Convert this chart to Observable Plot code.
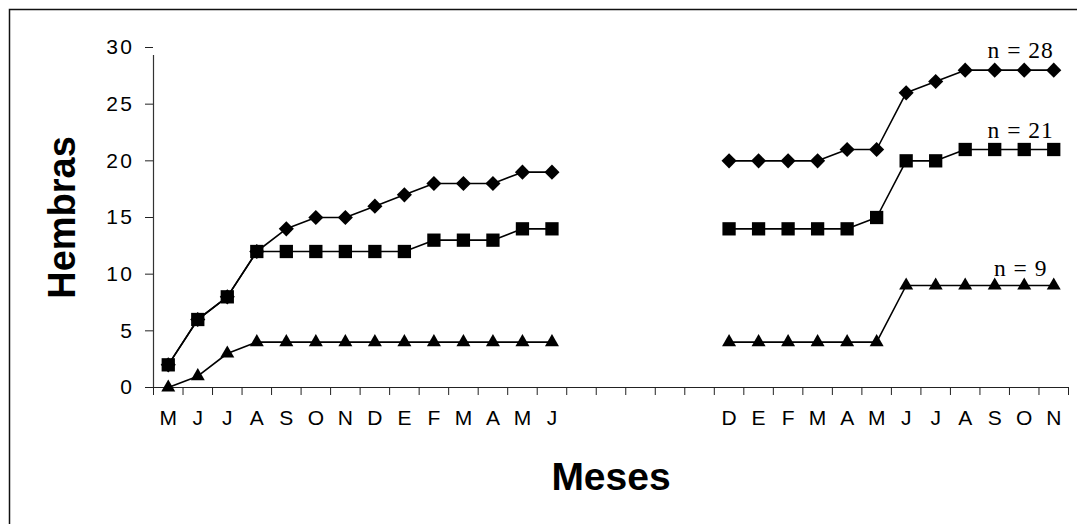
<!DOCTYPE html>
<html><head><meta charset="utf-8">
<script src="https://cdn.jsdelivr.net/npm/d3@7"></script>
<script src="https://cdn.jsdelivr.net/npm/@observablehq/plot@0.6"></script>
<style>
body{margin:0;background:#fff} #chart{width:1077px;height:524px}
g[aria-label="y-axis tick label"] text{letter-spacing:2.5px;font-size:21px}
g[aria-label="x-axis tick label"] text{font-size:21px}
g.nlabel text{letter-spacing:1px}
</style>
</head><body><div id="chart"></div>
<script>
// Category labels (blank slots are the gap between the two sampling periods)
const months = ["M","J","J","A","S","O","N","D","E","F","M","A","M","J","","","","","","D","E","F","M","A","M","J","J","A","S","O","N"];
// Cumulative number of females per series
const n28 = [2,6,8,12,14,15,15,16,17,18,18,18,19,19,null,null,null,null,null,20,20,20,20,21,21,26,27,28,28,28,28];
const n21 = [2,6,8,12,12,12,12,12,12,13,13,13,14,14,null,null,null,null,null,14,14,14,14,14,15,20,20,21,21,21,21];
const n9  = [0,1,3,4,4,4,4,4,4,4,4,4,4,4,null,null,null,null,null,4,4,4,4,4,4,9,9,9,9,9,9];
const seriesLabels = ["n = 28","n = 21","n = 9"];
const yTicks = [0,5,10,15,20,25,30];
const yTitle = "Hembras";
const xTitle = "Meses";

const series = [n28, n21, n9];
const rows = s => series[s].map((v, i) => ({i, v}));
const labelRows = series.map((arr, s) => ({label: seriesLabels[s], i: arr.length - 1, v: arr[arr.length - 1]}));

const symbols = ["diamond2", "square", "triangle"];
const radii = [6.8, 7.5, 5.2];
const labelDy = [-12, -12, -10];

const marks = [
  Plot.ruleY([0], {stroke: "#222", strokeWidth: 1.2}),
  Plot.ruleX([-0.5], {y1: 0, y2: 30, stroke: "#333", strokeWidth: 1.2, insetBottom: -8}),
  Plot.axisY({ticks: yTicks, tickSize: 8, tickPadding: 11, fontSize: 21, label: null, stroke: "#222"}),
  Plot.axisX({ticks: d3.range(-0.5, months.length + 0.5, 1), tickSize: 8, tickFormat: () => "", label: null, stroke: "#222"}),
  Plot.axisX({ticks: d3.range(0, months.length), tickSize: 0, tickPadding: 23, tickFormat: i => months[i], fontSize: 21, label: null})
];
[0,1,2].forEach(s => {
  marks.push(Plot.line(rows(s), {x: "i", y: "v", stroke: "black", strokeWidth: 1.6}));
});
[0,1,2].forEach(s => {
  marks.push(Plot.dot(rows(s).filter(d => d.v != null), {x: "i", y: "v", symbol: () => symbols[s], r: radii[s], fill: "black", stroke: "none"}));
});
labelRows.forEach((d, s) => {
  marks.push(Plot.text([d], {x: "i", y: "v", text: "label", dx: -33, dy: labelDy[s], lineAnchor: "bottom", textAnchor: "middle", fontFamily: "Liberation Serif, Times New Roman, serif", fontSize: 23.5, fill: "black", className: "nlabel"}));
});
marks.push(Plot.text([yTitle], {frameAnchor: "left", text: d => d, rotate: -90, dx: -91, textAnchor: "middle", lineAnchor: "middle", fontSize: 38, fontWeight: "bold", fill: "black"}));
marks.push(Plot.text([xTitle], {frameAnchor: "bottom", text: d => d, dy: 90, textAnchor: "middle", lineAnchor: "middle", fontSize: 39, fontWeight: "bold", fill: "black"}));

const chart = Plot.plot({
  width: 1077,
  height: 524,
  marginTop: 47,
  marginBottom: 137,
  marginLeft: 153,
  marginRight: 9,
  style: {fontFamily: "Liberation Sans, Arial, sans-serif", color: "black", background: "white", overflow: "visible"},
  x: {type: "linear", domain: [-0.5, months.length - 0.5], axis: null},
  y: {domain: [0, 30], axis: null},
  symbol: {type: "identity"},
  marks
});
const svg = d3.select(chart);
svg.append("path").attr("d", "M9.5,524V9.5H1077").attr("fill", "none").attr("stroke", "#111").attr("stroke-width", 1.5);
document.getElementById("chart").appendChild(chart);
</script>
</body></html>
